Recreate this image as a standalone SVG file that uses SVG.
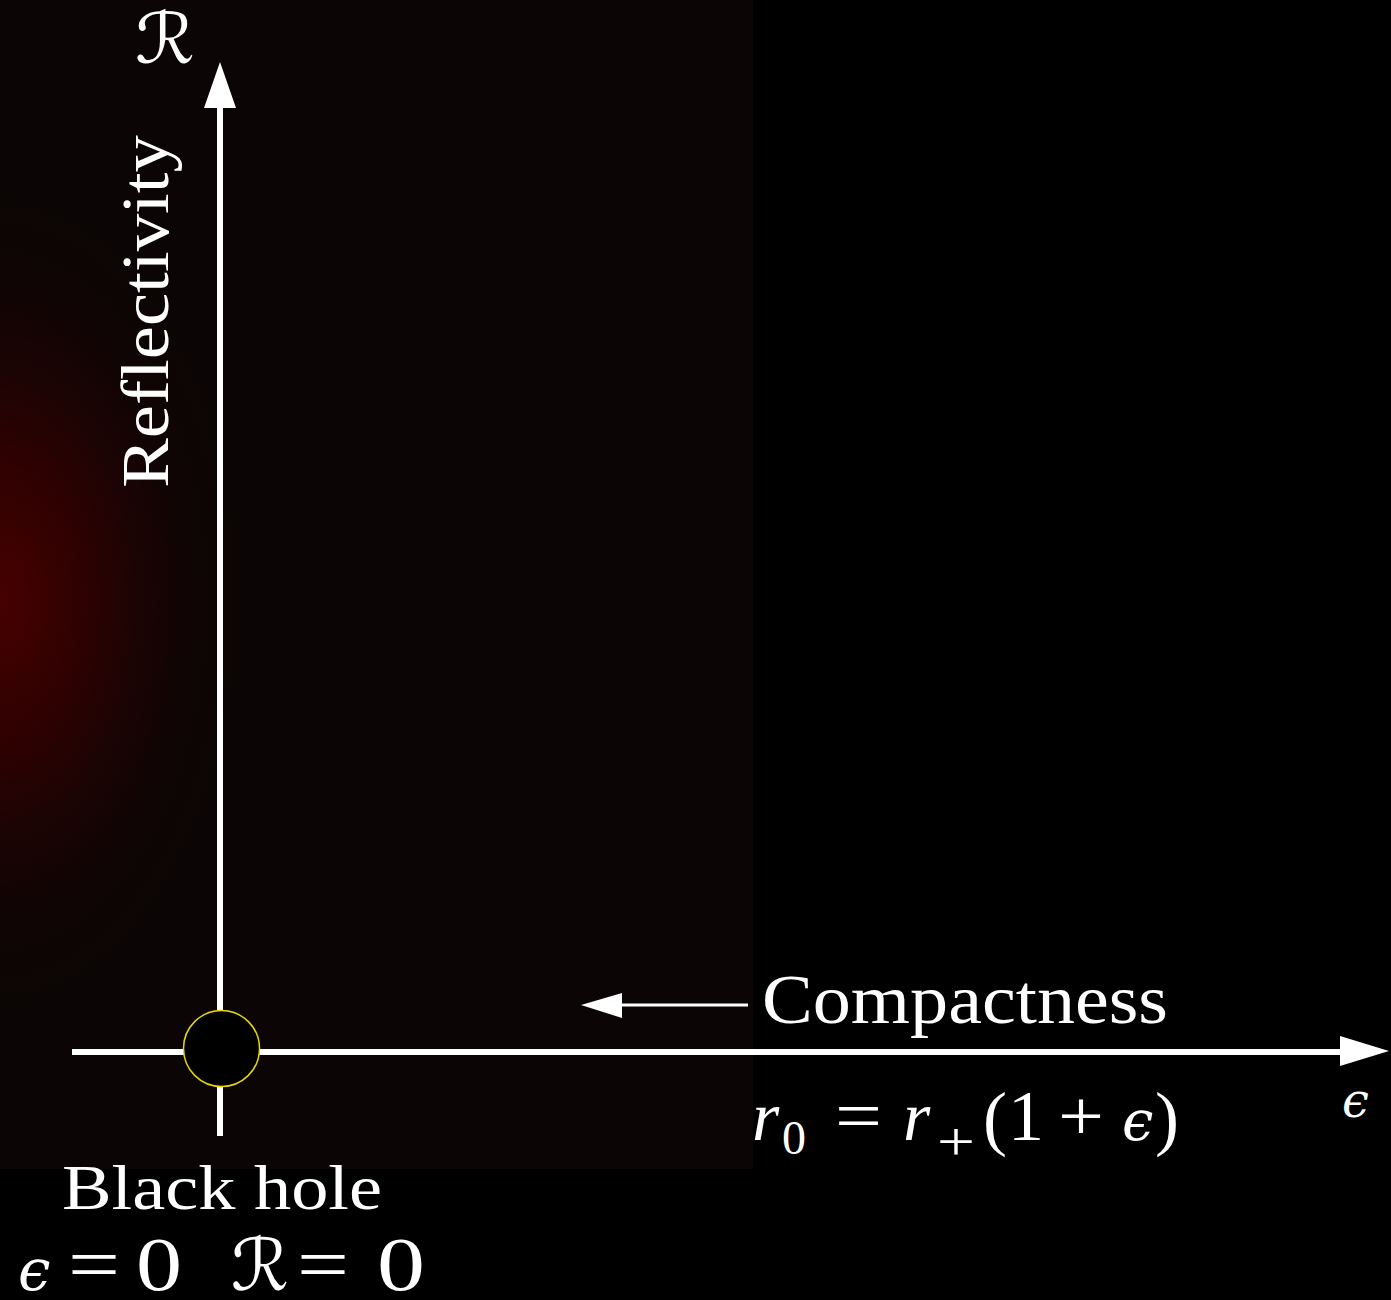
<svg xmlns="http://www.w3.org/2000/svg" width="1391" height="1300" viewBox="0 0 1391 1300">
  <style>
    .t { fill: #ffffff; font-family: "Liberation Serif", "DejaVu Serif", serif; }
    .it { font-style: italic; }
    .sym { font-family: "DejaVu Serif", "DejaVu Sans", serif; font-style: italic; }
    .axis { stroke: #ffffff; stroke-width: 6; fill: none; }
    .head { fill: #ffffff; }
  </style>
  <defs>
    <radialGradient id="glow" gradientUnits="userSpaceOnUse" cx="0" cy="0" r="1" gradientTransform="translate(0,600) scale(260,440)">
      <stop offset="0" stop-color="#480000" stop-opacity="1"/>
      <stop offset="0.35" stop-color="#320101" stop-opacity="0.85"/>
      <stop offset="0.7" stop-color="#180303" stop-opacity="0.45"/>
      <stop offset="1" stop-color="#0b0605" stop-opacity="0"/>
    </radialGradient>
  </defs>

  <rect x="0" y="0" width="1391" height="1300" fill="#000000"/>
  <g id="panel">
    <rect x="0" y="0" width="753" height="1169" fill="#0b0605"/>
    <rect x="0" y="0" width="753" height="1169" fill="url(#glow)"/>
  </g>

  <g id="connectors">
    <line class="axis" x1="220" y1="1136" x2="220" y2="104"/>
    <polygon class="head" points="220,62 204,108 236,108"/>
    <line class="axis" x1="72" y1="1052" x2="1344" y2="1052"/>
    <polygon class="head" points="1389,1051 1340,1036 1340,1066"/>
    <line stroke="#ffffff" stroke-width="3" x1="615" y1="1005" x2="748" y2="1005"/>
    <polygon class="head" points="581,1005 622,993 622,1018"/>
  </g>

  <g id="black-hole">
    <circle cx="221.5" cy="1048.5" r="38" fill="#000000" stroke="#e8d800" stroke-width="1.5"/>
  </g>

  <g id="labels">
    <text class="t sym" x="135" y="63" font-size="70" textLength="60" lengthAdjust="spacingAndGlyphs">ℛ</text>
    <text class="t" transform="translate(168,488) rotate(-90)" font-size="68" textLength="353" lengthAdjust="spacingAndGlyphs">Reflectivity</text>
    <text class="t" x="762" y="1023" font-size="70" textLength="406" lengthAdjust="spacingAndGlyphs">Compactness</text>
    <text class="t sym" x="1342" y="1117" font-size="48">ϵ</text>

    <g id="equation">
      <text class="t it" x="752" y="1140" font-size="70">r</text>
      <text class="t" x="782" y="1154" font-size="48">0</text>
      <text class="t" x="835" y="1140" font-size="72" textLength="47" lengthAdjust="spacingAndGlyphs">=</text>
      <text class="t it" x="903" y="1140" font-size="70">r</text>
      <text class="t" x="937" y="1160" font-size="54" textLength="38" lengthAdjust="spacingAndGlyphs">+</text>
      <text class="t" x="983" y="1142" font-size="72">(</text>
      <text class="t" x="1008" y="1140" font-size="72">1</text>
      <text class="t" x="1058" y="1140" font-size="72" textLength="46" lengthAdjust="spacingAndGlyphs">+</text>
      <text class="t sym" x="1122" y="1140" font-size="56">ϵ</text>
      <text class="t" x="1155" y="1142" font-size="72">)</text>
    </g>

    <text class="t" x="62" y="1209" font-size="64" textLength="320" lengthAdjust="spacingAndGlyphs">Black hole</text>
    <g id="conditions">
      <text class="t sym" x="18" y="1290" font-size="58">ϵ</text>
      <text class="t" x="68" y="1290" font-size="76" textLength="52" lengthAdjust="spacingAndGlyphs">=</text>
      <text class="t" x="136" y="1290" font-size="76" textLength="46" lengthAdjust="spacingAndGlyphs">0</text>
      <text class="t sym" x="231" y="1290" font-size="72" textLength="58" lengthAdjust="spacingAndGlyphs">ℛ</text>
      <text class="t" x="297" y="1290" font-size="76" textLength="52" lengthAdjust="spacingAndGlyphs">=</text>
      <text class="t" x="377" y="1290" font-size="76" textLength="48" lengthAdjust="spacingAndGlyphs">0</text>
    </g>
  </g>
</svg>
